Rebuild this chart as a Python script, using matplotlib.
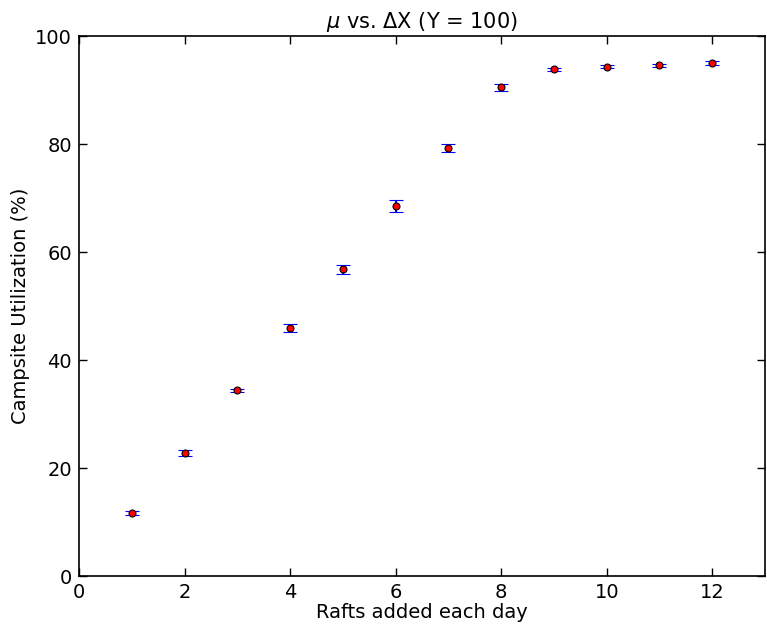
import matplotlib
matplotlib.use("Agg")
import matplotlib.pyplot as plt

rafts = [1, 2, 3, 4, 5, 6, 7, 8, 9, 10, 11, 12]
utilization = [11.6, 22.8, 34.4, 45.9, 56.8, 68.6, 79.2, 90.5, 93.8, 94.3, 94.6, 95.0]
errors = [0.35, 0.6, 0.3, 0.8, 0.8, 1.1, 0.75, 0.7, 0.3, 0.3, 0.3, 0.35]
xticks = [0, 2, 4, 6, 8, 10, 12]
yticks = [0, 20, 40, 60, 80, 100]

fig = plt.figure(figsize=(7.67, 6.24), dpi=100)
ax = fig.add_axes([79/767, 1 - 576/624, (765 - 79)/767, (576 - 36)/624])

ax.errorbar(rafts, utilization, yerr=errors, fmt='o', color='blue', ecolor='blue',
            elinewidth=1.5, capsize=5, capthick=1.5,
            markerfacecolor='red', markeredgecolor='black', markersize=5, markeredgewidth=0.8)

ax.set_xlim(0, 13)
ax.set_ylim(0, 100)
ax.set_xticks(xticks)
ax.set_yticks(yticks)
ax.tick_params(direction='in', length=6, width=1, labelsize=14, top=True, right=True, pad=5)
for s in ax.spines.values():
    s.set_linewidth(1.2)

ax.set_xlabel('Rafts added each day', fontsize=14, labelpad=1)
ax.set_ylabel('Campsite Utilization (%)', fontsize=14, labelpad=4)
ax.set_title(r'$\mu$ vs. $\Delta$X (Y = 100)', fontsize=15, pad=6)

fig.savefig('out.png', dpi=100)
